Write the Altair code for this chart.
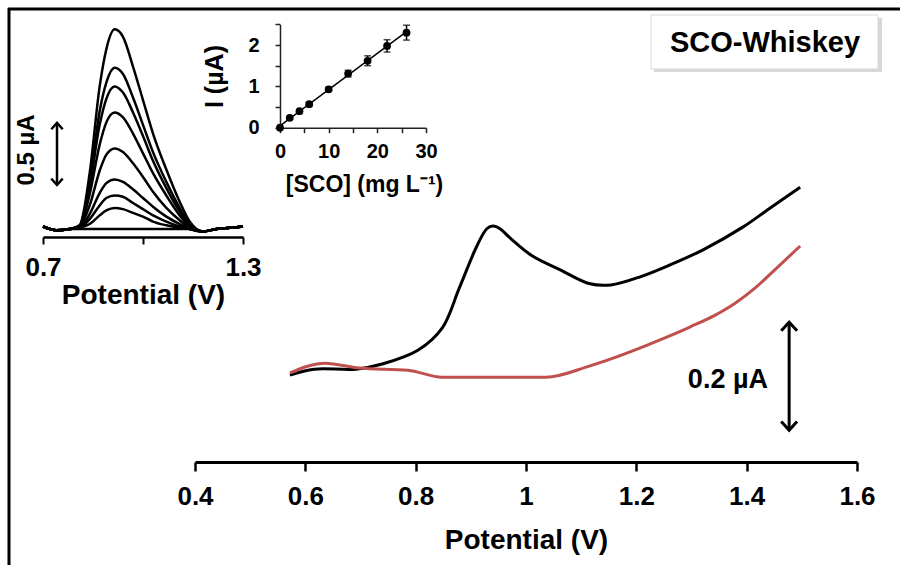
import altair as alt
import pandas as pd

FONT = "Liberation Sans"

# ---------------- main voltammograms (V, uA relative) ----------------
black_v = [0.572, 0.616, 0.692, 0.741, 0.804, 0.848, 0.879, 0.911, 0.929, 0.940, 0.953, 0.971,
           1.011, 1.062, 1.116, 1.154, 1.207, 1.261, 1.321, 1.393, 1.442, 1.497]
black_i = [-0.002, 0.009, 0.009, 0.019, 0.044, 0.085, 0.159, 0.237, 0.269, 0.274, 0.269, 0.252,
           0.219, 0.193, 0.167, 0.165, 0.180, 0.202, 0.230, 0.272, 0.307, 0.346]
red_v = [0.572, 0.636, 0.697, 0.786, 0.848, 1.036, 1.116, 1.243, 1.297, 1.343, 1.379, 1.415, 1.451, 1.497]
red_i = [0.002, 0.020, 0.011, 0.007, -0.006, -0.006, 0.015, 0.063, 0.087, 0.109, 0.131, 0.159, 0.193, 0.237]

# ---------------- inset A: DPV curves ----------------
inset_v = [0.70, 0.74, 0.78, 0.81, 0.84, 0.87, 0.89, 0.915, 0.94, 0.97, 1.00, 1.03, 1.07,
           1.11, 1.14, 1.18, 1.22, 1.26, 1.30]
c0 = [0.02, -0.01, 0.00, 0.00, 0.00, 0.00, 0.00, 0.00, 0.00, 0.00, 0.00, 0.00, 0.00, 0.00, 0.00, -0.02, 0.00, 0.01, 0.02]
c1 = [0.02, -0.01, 0.00, 0.03, 0.45, 1.15, 1.45, 1.61, 1.55, 1.31, 1.04, 0.77, 0.48, 0.22, 0.06, -0.02, 0.00, 0.01, 0.02]
c2 = [0.02, -0.01, 0.00, 0.03, 0.38, 0.95, 1.18, 1.30, 1.25, 1.06, 0.84, 0.62, 0.38, 0.17, 0.04, -0.02, 0.00, 0.01, 0.02]
c3 = [0.02, -0.01, 0.00, 0.02, 0.34, 0.84, 1.05, 1.15, 1.10, 0.94, 0.75, 0.55, 0.33, 0.14, 0.03, -0.02, 0.00, 0.01, 0.02]
c4 = [0.02, -0.01, 0.00, 0.02, 0.28, 0.68, 0.86, 0.94, 0.90, 0.77, 0.61, 0.45, 0.27, 0.11, 0.02, -0.02, 0.00, 0.01, 0.02]
c5 = [0.02, -0.01, 0.00, 0.02, 0.19, 0.47, 0.60, 0.65, 0.62, 0.53, 0.42, 0.30, 0.17, 0.07, 0.01, -0.02, 0.00, 0.01, 0.02]
c6 = [0.02, -0.01, 0.00, 0.01, 0.12, 0.29, 0.37, 0.40, 0.38, 0.32, 0.25, 0.18, 0.10, 0.04, 0.00, -0.02, 0.00, 0.01, 0.02]
c7 = [0.02, -0.01, 0.00, 0.01, 0.08, 0.19, 0.25, 0.27, 0.26, 0.21, 0.16, 0.11, 0.06, 0.02, 0.00, -0.02, 0.00, 0.01, 0.02]
c8 = [0.02, -0.01, 0.00, 0.01, 0.04, 0.11, 0.15, 0.17, 0.16, 0.13, 0.10, 0.06, 0.03, 0.01, 0.00, -0.02, 0.00, 0.01, 0.02]
inset_curves = [c0, c1, c2, c3, c4, c5, c6, c7, c8]

# ---------------- inset B: calibration ----------------
conc = [0, 2, 4, 6, 10, 14, 18, 22, 26]
current = [0.00, 0.24, 0.40, 0.57, 0.93, 1.31, 1.62, 1.98, 2.30]
err = [0.00, 0.03, 0.03, 0.04, 0.05, 0.08, 0.12, 0.15, 0.18]

# ---------------- data frames ----------------
black_df = pd.DataFrame({"V": black_v, "I": black_i})
red_df = pd.DataFrame({"V": red_v, "I": red_i})
rows = []
for k, c in enumerate(inset_curves):
    for v, i in zip(inset_v, c):
        rows.append({"V": v, "I": i, "k": k})
inset_df = pd.DataFrame(rows)
cal_df = pd.DataFrame({"c": conc, "I": current, "lo": [a - b for a, b in zip(current, err)],
                       "hi": [a + b for a, b in zip(current, err)]})
one = pd.DataFrame({"a": [0]})

W, H = 900, 565

# scales
mx = alt.Scale(domain=[0.4, 1.6], range=[195, 857], nice=False, zero=False)
my = alt.Scale(domain=[-0.2, 0.6], range=[482, 50], nice=False, zero=False)
ax = alt.Scale(domain=[0.7, 1.3], range=[43, 243], nice=False, zero=False)
ay = alt.Scale(domain=[0, 1.7], range=[229, 18.2], nice=False, zero=False)
bx = alt.Scale(domain=[0, 30], range=[280, 426], nice=False, zero=False)
by = alt.Scale(domain=[0, 2.5], range=[127.7, 24.4], nice=False, zero=False)

# ---- main
main_axis = alt.Axis(orient="bottom", offset=462 - H, values=[0.4, 0.6, 0.8, 1.0, 1.2, 1.4, 1.6],
                     labelExpr="datum.value == 1 ? '1' : format(datum.value, '.1f')",
                     title="Potential (V)", grid=False, domainColor="black", domainWidth=3,
                     tickColor="black", tickWidth=2.5, tickSize=9, labelFontSize=26,
                     labelFont=FONT, labelFontWeight="bold", labelColor="black", labelPadding=12,
                     labelFlush=False, titleFont=FONT, titleFontSize=28, titleFontWeight="bold",
                     titleColor="black", titlePadding=17)
black_line = alt.Chart(black_df).mark_line(strokeWidth=3, color="#000000", interpolate="catmull-rom").encode(
    x=alt.X("V:Q", scale=mx, axis=main_axis),
    y=alt.Y("I:Q", scale=my, axis=None),
    order=alt.Order("V:Q"),
)
red_line = alt.Chart(red_df).mark_line(strokeWidth=3, color="#c0504d", interpolate="monotone").encode(
    x=alt.X("V:Q", scale=mx, axis=None),
    y=alt.Y("I:Q", scale=my, axis=None),
    order=alt.Order("V:Q"),
)

arrow_main = pd.DataFrame({"V": [1.477], "lo": [-0.104], "hi": [0.096]})
main_rule = alt.Chart(arrow_main).mark_rule(strokeWidth=3, color="black").encode(
    x=alt.X("V:Q", scale=mx, axis=None), y=alt.Y("lo:Q", scale=my, axis=None), y2="hi:Q")
main_head_up = alt.Chart(arrow_main).mark_point(shape="M-1,1.1L0,0L1,1.1", filled=False, size=250,
                                                strokeWidth=3, color="black", opacity=1).encode(
    x=alt.X("V:Q", scale=mx, axis=None), y=alt.Y("hi:Q", scale=my, axis=None))
main_head_dn = alt.Chart(arrow_main).mark_point(shape="M-1,-1.1L0,0L1,-1.1", filled=False, size=250,
                                                strokeWidth=3, color="black", opacity=1).encode(
    x=alt.X("V:Q", scale=mx, axis=None), y=alt.Y("lo:Q", scale=my, axis=None))
main_lab = alt.Chart(pd.DataFrame({"V": [1.366], "I": [-0.011], "t": ["0.2 µA"]})).mark_text(
    font=FONT, fontSize=27, fontWeight="bold", color="black").encode(
    x=alt.X("V:Q", scale=mx, axis=None), y=alt.Y("I:Q", scale=my, axis=None), text="t:N")

# ---- inset A
a_axis = alt.Axis(orient="bottom", offset=237 - H, values=[0.7, 1.0, 1.3],
                  labelExpr="datum.value == 1 ? '' : format(datum.value, '.1f')",
                  title="Potential (V)", grid=False, domainColor="black", domainWidth=2.5,
                  tickColor="black", tickWidth=2, tickSize=7, labelFontSize=26, labelFont=FONT,
                  labelFontWeight="bold", labelColor="black", labelPadding=10, labelFlush=False,
                  titleFont=FONT, titleFontSize=28, titleFontWeight="bold", titleColor="black",
                  titlePadding=1)
a_lines = alt.Chart(inset_df).mark_line(strokeWidth=2.5, color="black", interpolate="monotone").encode(
    x=alt.X("V:Q", scale=ax, axis=a_axis), y=alt.Y("I:Q", scale=ay, axis=None),
    detail="k:N", order=alt.Order("V:Q"))
arrow_a = pd.DataFrame({"V": [0.742], "lo": [0.355], "hi": [0.855]})
a_rule = alt.Chart(arrow_a).mark_rule(strokeWidth=2.5, color="black").encode(
    x=alt.X("V:Q", scale=ax, axis=None), y=alt.Y("lo:Q", scale=ay, axis=None), y2="hi:Q")
a_head_up = alt.Chart(arrow_a).mark_point(shape="M-1,1.1L0,0L1,1.1", filled=False, size=130,
                                          strokeWidth=2.5, color="black", opacity=1).encode(
    x=alt.X("V:Q", scale=ax, axis=None), y=alt.Y("hi:Q", scale=ay, axis=None))
a_head_dn = alt.Chart(arrow_a).mark_point(shape="M-1,-1.1L0,0L1,-1.1", filled=False, size=130,
                                          strokeWidth=2.5, color="black", opacity=1).encode(
    x=alt.X("V:Q", scale=ax, axis=None), y=alt.Y("lo:Q", scale=ay, axis=None))
a_lab = alt.Chart(pd.DataFrame({"V": [0.652], "I": [0.637], "t": ["0.5 µA"]})).mark_text(
    font=FONT, fontSize=24, fontWeight="bold", color="black", angle=270).encode(
    x=alt.X("V:Q", scale=ax, axis=None), y=alt.Y("I:Q", scale=ay, axis=None), text="t:N")

# ---- inset B
b_xaxis = alt.Axis(orient="bottom", offset=127.7 - H, values=[0, 5, 10, 15, 20, 25, 30],
                   labelExpr="datum.value % 10 == 0 ? format(datum.value, 'd') : ''",
                   title="[SCO] (mg L⁻¹)", grid=False, domainColor="#222", domainWidth=1.5,
                   tickColor="#222", tickWidth=1.5, tickSize=5, labelFontSize=20, labelFont=FONT,
                   labelFontWeight="bold", labelColor="black", labelPadding=9, labelFlush=False,
                   titleFont=FONT, titleFontSize=23, titleFontWeight="bold", titleColor="black",
                   titlePadding=12, titleX=364)
b_yaxis = alt.Axis(orient="left", offset=-280, values=[0, 0.5, 1, 1.5, 2, 2.5],
                   labelExpr="datum.value % 1 == 0 ? format(datum.value, 'd') : ''",
                   title="I (µA)", grid=False, domainColor="#222", domainWidth=1.5,
                   tickColor="#222", tickWidth=1.5, tickSize=5, labelFontSize=20, labelFont=FONT,
                   labelFontWeight="bold", labelColor="black", labelPadding=16, labelFlush=False,
                   titleFont=FONT, titleFontSize=25, titleFontWeight="bold", titleColor="black",
                   titlePadding=20)
b_pts = alt.Chart(cal_df).mark_circle(size=60, color="black", opacity=1).encode(
    x=alt.X("c:Q", scale=bx, axis=b_xaxis), y=alt.Y("I:Q", scale=by, axis=b_yaxis))
b_fit = alt.Chart(cal_df).transform_regression("c", "I").mark_line(color="black", strokeWidth=1.5).encode(
    x=alt.X("c:Q", scale=bx, axis=None), y=alt.Y("I:Q", scale=by, axis=None))
b_err = alt.Chart(cal_df).mark_rule(color="black", strokeWidth=1.5).encode(
    x=alt.X("c:Q", scale=bx, axis=None), y=alt.Y("lo:Q", scale=by, axis=None), y2="hi:Q")
b_cap_lo = alt.Chart(cal_df).mark_tick(color="black", thickness=1.5, size=7, orient="horizontal").encode(
    x=alt.X("c:Q", scale=bx, axis=None), y=alt.Y("lo:Q", scale=by, axis=None))
b_cap_hi = alt.Chart(cal_df).mark_tick(color="black", thickness=1.5, size=7, orient="horizontal").encode(
    x=alt.X("c:Q", scale=bx, axis=None), y=alt.Y("hi:Q", scale=by, axis=None))

# ---- frame & label box
frame_l = alt.Chart(one).mark_rule(color="black", strokeWidth=3).encode(
    x=alt.value(9), y=alt.value(8), y2=alt.value(H))
frame_t = alt.Chart(one).mark_rule(color="black", strokeWidth=3).encode(
    x=alt.value(8), x2=alt.value(W), y=alt.value(9))
shadow = alt.Chart(one).mark_rect(color="#c8c8c8", opacity=0.7).encode(
    x=alt.value(654), x2=alt.value(882), y=alt.value(18), y2=alt.value(72))
box = alt.Chart(one).mark_rect(fill="white", stroke="#d8d8d8", strokeWidth=1).encode(
    x=alt.value(651), x2=alt.value(878), y=alt.value(15), y2=alt.value(69))
box_txt = alt.Chart(pd.DataFrame({"t": ["SCO-Whiskey"]})).mark_text(
    font=FONT, fontSize=29, fontWeight="bold", color="black").encode(
    x=alt.value(765), y=alt.value(43), text="t:N")

chart = alt.layer(
    frame_l, frame_t, shadow, box, box_txt,
    black_line, red_line, main_rule, main_head_up, main_head_dn, main_lab,
    a_lines, a_rule, a_head_up, a_head_dn, a_lab,
    b_fit, b_err, b_cap_lo, b_cap_hi, b_pts,
).resolve_scale(x="independent", y="independent").properties(
    width=W, height=H, autosize=alt.AutoSizeParams(type="none"), padding=0,
    background="white"
).configure_view(stroke=None)

chart.save("out.html", embed_options={"renderer": "svg", "actions": False})
